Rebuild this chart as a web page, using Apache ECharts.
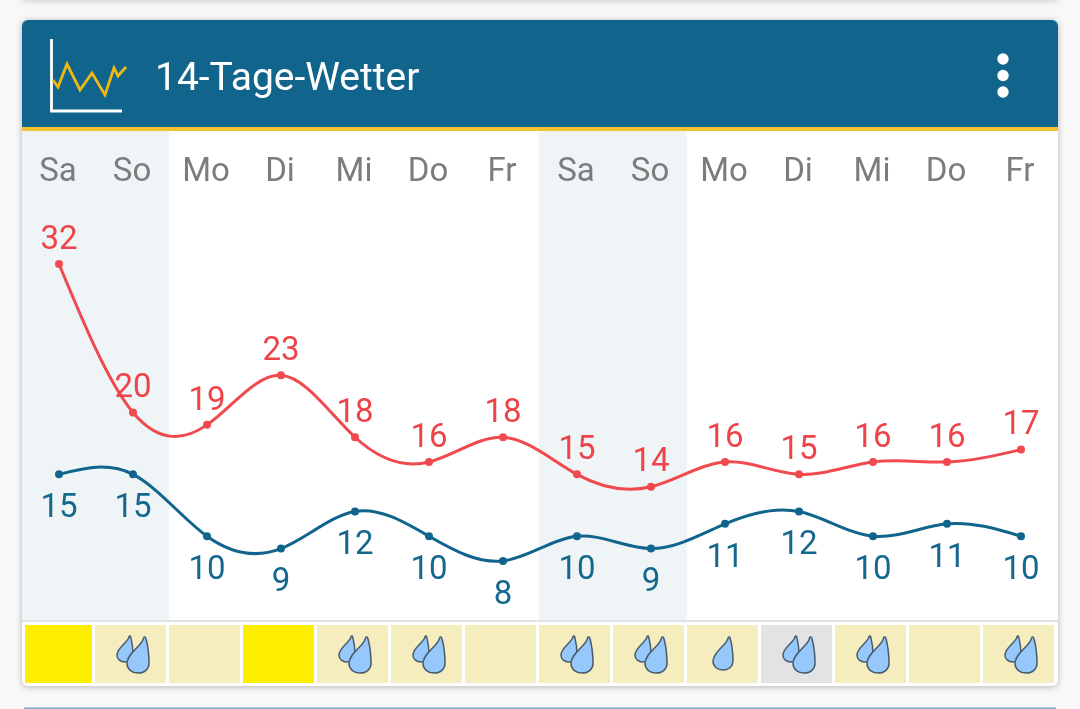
<!DOCTYPE html>
<html lang="de">
<head>
<meta charset="utf-8">
<title>14-Tage-Wetter</title>
<style>
  html, body { margin: 0; padding: 0; background: #f8f8f8; }
  #chart { width: 1080px; height: 709px; }
</style>
<script src="https://cdn.jsdelivr.net/npm/echarts@6/dist/echarts.min.js"></script>
</head>
<body>
<div id="chart"></div>
<script>
// Forecast data, one entry per day
const days = ['Sa', 'So', 'Mo', 'Di', 'Mi', 'Do', 'Fr', 'Sa', 'So', 'Mo', 'Di', 'Mi', 'Do', 'Fr'];
const highs = [32, 20, 19, 23, 18, 16, 18, 15, 14, 16, 15, 16, 16, 17];
const lows = [15, 15, 10, 9, 12, 10, 8, 10, 9, 11, 12, 10, 11, 10];
// Sky per day: sun, mild, cloud
const sky = ['sun', 'mild', 'mild', 'sun', 'mild', 'mild', 'mild', 'mild', 'mild', 'mild', 'cloud', 'mild', 'mild', 'mild'];
// Number of rain drops shown per day
const drops = [0, 2, 0, 0, 2, 2, 0, 2, 2, 1, 2, 2, 0, 2];
const skyColours = { sun: '#ffed00', mild: '#f5edbd', cloud: '#e3e3e3' };

const FONT = 'Roboto, sans-serif';
const RED = '#f0494e';
const BLUE = '#11658c';
const DROP_PATH = 'M76 2C70 40 0 70 0 118C0 142 22 160 50 160C80 160 100 142 100 118C100 85 94 35 86 6C84 -2 78 -2 76 2Z';
const dropStyle = { fill: '#97c8fb', stroke: '#485b6c', lineWidth: 1.5 };

function dropShape(cx, top, w, h) {
  return { type: 'path', shape: { pathData: DROP_PATH, x: cx - w / 2, y: top, width: w, height: h, layout: 'cover' }, style: dropStyle };
}

// One strip cell: coloured tile plus its rain drops
function renderCell(params, api) {
  const i = api.value(0);
  const c = api.coord([i, 0.5]);
  const size = api.size([1, 1]);
  const left = Math.max(c[0] - 35.5, 25);
  const right = c[0] + 35.5;
  const top = c[1] - size[1] / 2;
  const children = [{
    type: 'rect',
    shape: { x: left, y: top, width: right - left, height: size[1] },
    style: { fill: skyColours[sky[i]] }
  }];
  const n = api.value(1);
  if (n === 1) {
    children.push(dropShape(c[0] + 0.5, top + 12, 20, 33));
  } else if (n === 2) {
    children.push(dropShape(c[0] - 5.5, top + 11, 16, 26));
    children.push(dropShape(c[0] + 7.5, top + 12, 22, 36));
  }
  return { type: 'group', children };
}

// Weekend column behind the curves, one category wide
function renderWeekend(params, api) {
  const i = api.value(0);
  const c = api.coord([i, 0.5]);
  const size = api.size([1, 1]);
  const left = Math.max(c[0] - size[0] / 2, 22);
  return {
    type: 'rect',
    shape: { x: left, y: c[1] - size[1] / 2, width: c[0] + size[0] / 2 - left, height: size[1] },
    style: { fill: '#eff4f7' }
  };
}

// Natural cubic spline through the day values, in pixels
function splinePath(values, api) {
  const pts = values.map((v, i) => api.coord([i, v]));
  const n = pts.length - 1;
  const a = [], b = [], c = [], r = [];
  for (let i = 0; i <= n; i++) {
    a[i] = i === 0 ? 0 : 1;
    c[i] = i === n ? 0 : 1;
    b[i] = (i === 0 || i === n) ? 2 : 4;
    r[i] = 3 * (pts[Math.min(i + 1, n)][1] - pts[Math.max(i - 1, 0)][1]);
  }
  for (let i = 1; i <= n; i++) {
    const m = a[i] / b[i - 1];
    b[i] -= m * c[i - 1];
    r[i] -= m * r[i - 1];
  }
  const d = [];
  d[n] = r[n] / b[n];
  for (let i = n - 1; i >= 0; i--) d[i] = (r[i] - c[i] * d[i + 1]) / b[i];
  let path = 'M' + pts[0][0] + ' ' + pts[0][1];
  for (let i = 0; i < n; i++) {
    const dx = (pts[i + 1][0] - pts[i][0]) / 3;
    path += 'C' + (pts[i][0] + dx) + ' ' + (pts[i][1] + d[i] / 3) + ' ' +
      (pts[i + 1][0] - dx) + ' ' + (pts[i + 1][1] - d[i + 1] / 3) + ' ' +
      pts[i + 1][0] + ' ' + pts[i + 1][1];
  }
  return path;
}

const curve = (name, values, color) => ({
  name, type: 'custom', silent: true, z: 3, clip: false,
  data: [values[0]],
  encode: { y: 0 },
  renderItem: (params, api) => ({
    type: 'path',
    shape: { pathData: splinePath(values, api) },
    style: { fill: null, stroke: color, lineWidth: 3 }
  })
});

const dots = (name, values, color, labelColor, position, distance) => ({
  name, type: 'line', data: values,
  showAllSymbol: true, symbol: 'circle', symbolSize: 8,
  lineStyle: { opacity: 0 },
  itemStyle: { color },
  label: { show: true, position, distance, color: labelColor, fontFamily: FONT, fontSize: 33 },
  z: 4
});

const chart = echarts.init(document.getElementById('chart'), null, { renderer: 'canvas' });
chart.setOption({
  animation: false,
  backgroundColor: '#f8f8f8',
  grid: [
    { left: 22, width: 1036, top: 130, height: 490 },
    { left: 19.5, width: 1036, top: 625, height: 58 },
    { left: 21, width: 1036, top: 130, height: 490 }
  ],
  xAxis: [
    {
      gridIndex: 0, type: 'category', data: days, position: 'top', z: 3,
      axisLine: { show: false }, axisTick: { show: false }, splitLine: { show: false },
      axisLabel: { inside: true, interval: 0, margin: 26, padding: [0, 2, 0, 0], color: '#7c7c7c', fontFamily: FONT, fontSize: 33 }
    },
    { gridIndex: 1, type: 'category', data: days, show: false },
    { gridIndex: 2, type: 'category', data: days, show: false }
  ],
  yAxis: [
    { gridIndex: 0, type: 'value', min: 3.23, max: 42.83, show: false },
    { gridIndex: 1, type: 'value', min: 0, max: 1, show: false },
    { gridIndex: 2, type: 'value', min: 0, max: 1, show: false }
  ],
  series: [
    {
      name: 'Wochenende', type: 'custom', xAxisIndex: 2, yAxisIndex: 2,
      renderItem: renderWeekend, silent: true, z: 1,
      data: days.map((d, i) => [i, d]).filter(r => r[1] === 'Sa' || r[1] === 'So').map(r => [r[0]]),
      encode: { x: 0 }
    },
    curve('Höchstwerte Verlauf', highs, RED),
    curve('Tiefstwerte Verlauf', lows, BLUE),
    dots('Höchstwerte', highs, RED, '#ee4449', 'top', 3),
    dots('Tiefstwerte', lows, BLUE, '#14688e', 'bottom', 14),
    {
      name: 'Wetter', type: 'custom', xAxisIndex: 1, yAxisIndex: 1,
      renderItem: renderCell,
      data: days.map((d, i) => [i, drops[i]]),
      encode: { x: 0 }, silent: true, z: 3
    }
  ],
  graphic: [
    // neighbouring cards at the edges of the screen
    { type: 'rect', z: 0, shape: { x: 22, y: -20, width: 1036, height: 20 }, style: { fill: '#fff', shadowBlur: 6, shadowColor: 'rgba(0,0,0,0.18)', shadowOffsetY: 1 } },
    { type: 'rect', z: 0, shape: { x: 24, y: 707.5, width: 1032, height: 10 }, style: { fill: '#7fa9c9' } },
    // card body
    { type: 'rect', z: 0, shape: { x: 22, y: 20, width: 1036, height: 666, r: 6 }, style: { fill: '#fff', shadowBlur: 6, shadowColor: 'rgba(0,0,0,0.28)', shadowOffsetY: 1 } },
    // header bar with its yellow rule
    { type: 'rect', z: 1, shape: { x: 22, y: 20, width: 1036, height: 107, r: [6, 6, 0, 0] }, style: { fill: '#11658c' } },
    { type: 'rect', z: 5, shape: { x: 22, y: 127, width: 1036, height: 4 }, style: { fill: '#f2c233' } },
    // chart icon
    { type: 'polyline', z: 5, shape: { points: [[51.5, 39], [51.5, 111], [122, 111]] }, style: { stroke: '#fff', lineWidth: 2.8, fill: null } },
    { type: 'polyline', z: 5, shape: { points: [[53, 80], [58, 87], [67, 64], [80, 90], [92, 73], [105, 95], [114, 68], [118, 76], [126, 67]] }, style: { stroke: '#eeb914', lineWidth: 2.8, fill: null } },
    // title
    { type: 'text', z: 5, style: { x: 155, y: 80, text: '14-Tage-Wetter', fill: '#fff', font: '39px ' + FONT, verticalAlign: 'middle' } },
    // overflow menu
    { type: 'circle', z: 5, shape: { cx: 1003, cy: 59, r: 5.7 }, style: { fill: '#fff' } },
    { type: 'circle', z: 5, shape: { cx: 1003, cy: 75.5, r: 5.7 }, style: { fill: '#fff' } },
    { type: 'circle', z: 5, shape: { cx: 1003, cy: 92, r: 5.7 }, style: { fill: '#fff' } },
    // divider above the weather strip
    { type: 'rect', z: 5, shape: { x: 22, y: 620, width: 1036, height: 2 }, style: { fill: '#dfe2e4' } }
  ]
});
</script>
</body>
</html>
